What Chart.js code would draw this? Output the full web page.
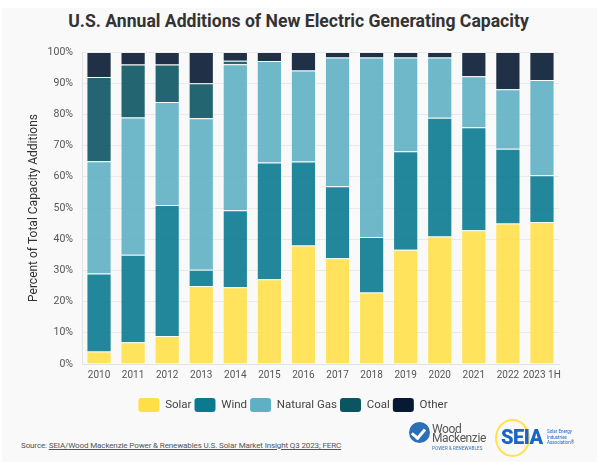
<!DOCTYPE html>
<html>
<head>
<meta charset="utf-8">
<script src="https://cdn.jsdelivr.net/npm/chart.js@4"></script>
<style>
  html, body { margin:0; padding:0; background:#ffffff; }
  body { width:597px; height:462px; position:relative; overflow:hidden; font-family: Roboto, "Noto Sans", sans-serif; }
  #panel { position:absolute; left:2px; top:8px; width:595px; height:454px; background:#f9f9f9; }
  #title { position:absolute; left:0; top:11px; width:597px; text-align:center; font-weight:700; font-size:17.6px; color:#333; }
  #wrap { position:absolute; left:0; top:30px; width:597px; height:395px; }
  #source { position:absolute; left:21px; top:441px; font-size:8px; color:#555; white-space:nowrap; letter-spacing:-0.12px; }
  #source span { text-decoration: underline; }
  .wm-circle { position:absolute; left:409px; top:422px; width:21px; height:21px; border-radius:50%; background:#2c6fb7; }
  .wm-circle:after { content:""; position:absolute; left:5px; top:4px; width:6px; height:10px; border-right:3px solid #fff; border-bottom:3px solid #fff; transform:rotate(40deg); }
  .wm-t { position:absolute; font-size:12px; color:#555; line-height:12px; letter-spacing:-0.4px; }
  .wm-s { position:absolute; left:432px; top:446px; font-size:4.5px; color:#2c6fb7; letter-spacing:0.1px; }
  .seia-ring { position:absolute; left:495px; top:419px; width:31px; height:34px; border-radius:50%; border:2px solid #ffe14f; }
  .seia-t { position:absolute; left:501px; top:427px; font-size:20px; font-weight:900; color:#1a66c4; letter-spacing:-0.5px; line-height:20px; }
  .seia-s { position:absolute; left:547px; top:429px; font-size:4.5px; color:#1a66c4; line-height:5.5px; }
</style>
</head>
<body>
<div id="panel"></div>
<div id="title">U.S. Annual Additions of New Electric Generating Capacity</div>
<div id="wrap"><canvas id="c" width="597" height="395"></canvas></div>
<div id="source">Source: <span>SEIA/Wood Mackenzie Power &amp; Renewables U.S. Solar Market Insight Q3 2023; FERC</span></div>
<div class="wm-circle"></div>
<div class="wm-t" style="left:432px;top:423px;">Wood</div>
<div class="wm-t" style="left:432px;top:432px;">Mackenzie</div>
<div class="wm-s">POWER &amp; RENEWABLES</div>
<div class="seia-ring"></div>
<div class="seia-t">SEIA</div>
<div class="seia-s">Solar Energy<br>Industries<br>Association®</div>
<script>
const categories = ["2010","2011","2012","2013","2014","2015","2016","2017","2018","2019","2020","2021","2022","2023 1H"];
const solar = [4, 7, 9, 25, 24.6, 27.2, 38, 33.9, 22.9, 36.6, 40.9, 42.9, 45, 45.5];
const wind = [25, 28, 42, 5.2, 24.7, 37.4, 26.9, 23.1, 17.8, 31.6, 38, 33, 24, 15];
const naturalGas = [36, 44, 33, 48.6, 46.8, 32.5, 29.2, 41.2, 57.5, 30, 19.3, 16.3, 19.1, 30.5];
const coal = [27, 17, 12, 11.2, 1.1, null, null, null, null, null, null, null, null, null];
const other = [8, 4, 4, 10, 2.8, 2.9, 5.9, 1.8, 1.8, 1.8, 1.8, 7.8, 11.9, 9];
const seriesNames = ["Solar", "Wind", "Natural Gas", "Coal", "Other"];
const yTicks = [0, 10, 20, 30, 40, 50, 60, 70, 80, 90, 100];

const solidColors = ["#ffdf45", "#0b7a91", "#5fb0c4", "#0b5563", "#071a33"];
const barColors = ["rgba(255,223,69,0.88)", "rgba(11,122,145,0.9)", "rgba(95,176,196,0.9)", "rgba(11,85,99,0.9)", "rgba(7,26,51,0.9)"];
const seriesData = [solar, wind, naturalGas, coal, other];

const datasets = seriesNames.map((n, i) => ({
  label: n,
  data: seriesData[i],
  backgroundColor: barColors[i],
  borderColor: "rgba(255,255,255,0.3)",
  borderWidth: 1,
  categoryPercentage: 1.0,
  barPercentage: 0.74
}));

new Chart(document.getElementById("c"), {
  type: "bar",
  data: { labels: categories, datasets },
  options: {
    responsive: false,
    animation: false,
    layout: { padding: { left: 27, right: 38, top: 22, bottom: 3 } },
    plugins: {
      tooltip: { enabled: false },
      legend: {
        position: "bottom",
        labels: {
          font: { family: "Roboto", size: 11.5 },
          color: "#444",
          boxWidth: 21,
          boxHeight: 14,
          padding: 3,
          useBorderRadius: true,
          borderRadius: 3,
          generateLabels: (chart) => seriesNames.map((n, i) => ({
            text: n, fillStyle: solidColors[i], strokeStyle: solidColors[i], lineWidth: 0,
            borderRadius: 3, datasetIndex: i, hidden: false, fontColor: "#444"
          }))
        }
      }
    },
    scales: {
      x: {
        stacked: true,
        grid: { display: false, drawTicks: false },
        border: { display: true, color: "#e3e3e3" },
        ticks: { font: { family: "Roboto", size: 10 }, color: "#555", padding: 5, maxRotation: 0, autoSkip: false },
        afterFit: (s) => { s.height = 31; }
      },
      y: {
        stacked: true,
        min: 0, max: 100,
        afterBuildTicks: (s) => { s.ticks = yTicks.map(v => ({ value: v })); },
        grid: { color: "#e9e9e9", drawTicks: false },
        border: { display: true, color: "#e3e3e3" },
        ticks: { font: { family: "Roboto", size: 10.5 }, color: "#555", padding: 9, callback: (v) => v + "%" },
        title: { display: true, text: "Percent of Total Capacity Additions", font: { family: "Roboto", size: 12 }, color: "#333", padding: { top: 0, bottom: 0 } },
        afterFit: (s) => { s.width = 55; }
      }
    }
  }
});
</script>
</body>
</html>
